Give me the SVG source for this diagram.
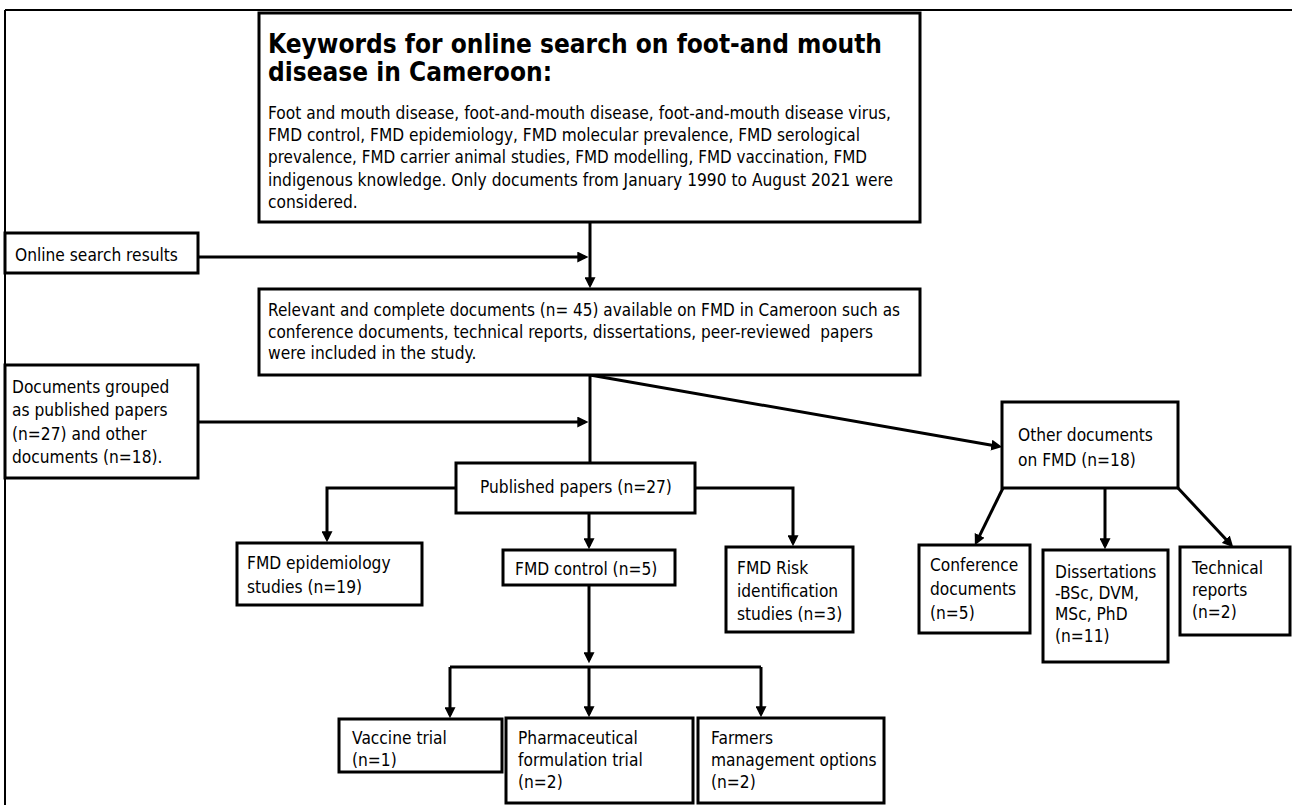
<svg xmlns="http://www.w3.org/2000/svg" width="1292" height="805" viewBox="0 0 1292 805">
<style>
.box{fill:#fff;stroke:#000;stroke-width:3}
.t{font-family:"DejaVu Sans",Verdana,sans-serif;font-size:17px;fill:#000}
.h{font-family:"DejaVu Sans",Verdana,sans-serif;font-size:27px;font-weight:bold;fill:#000}
.c{fill:none;stroke:#000;stroke-width:3}
.a{marker-end:url(#ah)}
.pre{white-space:pre}
</style>
<defs>
<marker id="ah" viewBox="0 0 10 10" refX="7" refY="5" markerWidth="11" markerHeight="11" markerUnits="userSpaceOnUse" orient="auto">
<path d="M0,0 L10,5 L0,10 z" fill="#000"/>
</marker>
</defs>
<rect width="1292" height="805" fill="#fff"/>
<g id="frame">
<path d="M5,10 H1292 M5,10 V805" fill="none" stroke="#000" stroke-width="2"/>
</g>
<g id="connectors">
<path class="c a" d="M198,257 H585"/>
<path class="c a" d="M590,222 V285"/>
<path class="c" d="M590,375 V463"/>
<path class="c a" d="M198,422 H585"/>
<path class="c a" d="M590,375 L999,446.5"/>
<path class="c a" d="M456,488 H327 V539"/>
<path class="c a" d="M695,488 H793 V543"/>
<path class="c a" d="M589,513 V546"/>
<path class="c a" d="M589,585 V660"/>
<path class="c" d="M450,667 H761"/>
<path class="c a" d="M450,667 V715"/>
<path class="c a" d="M589,667 V714"/>
<path class="c a" d="M761,667 V714"/>
<path class="c a" d="M1003,488 L976.3,542.3"/>
<path class="c a" d="M1105,488 V546"/>
<path class="c a" d="M1178,488 L1231,544.8"/>
</g>
<g id="keywords">
<rect class="box" x="259" y="13" width="661" height="209"/>
<text class="h" x="268" y="53" textLength="614" lengthAdjust="spacingAndGlyphs">Keywords for online search on foot-and mouth</text>
<text class="h" x="268" y="81" textLength="284" lengthAdjust="spacingAndGlyphs">disease in Cameroon:</text>
<text class="t" transform="translate(268,119) scale(.91,1)" textLength="684.6" lengthAdjust="spacingAndGlyphs">Foot and mouth disease, foot-and-mouth disease, foot-and-mouth disease virus,</text>
<text class="t" transform="translate(268,141) scale(.91,1)" textLength="650.5" lengthAdjust="spacingAndGlyphs">FMD control, FMD epidemiology, FMD molecular prevalence, FMD serological</text>
<text class="t" transform="translate(268,163) scale(.91,1)" textLength="658.2" lengthAdjust="spacingAndGlyphs">prevalence, FMD carrier animal studies, FMD modelling, FMD vaccination, FMD</text>
<text class="t" transform="translate(268,186) scale(.91,1)" textLength="686.8" lengthAdjust="spacingAndGlyphs">indigenous knowledge. Only documents from January 1990 to August 2021 were</text>
<text class="t" transform="translate(268,208) scale(.91,1)">considered.</text>
</g>
<g id="online">
<rect class="box" x="5" y="233" width="193" height="40"/>
<text class="t" transform="translate(15,261) scale(.91,1)">Online search results</text>
</g>
<g id="relevant">
<rect class="box" x="259" y="289" width="661" height="86"/>
<text class="t" transform="translate(268,316) scale(.91,1)" textLength="694.5" lengthAdjust="spacingAndGlyphs">Relevant and complete documents (n= 45) available on FMD in Cameroon such as</text>
<text class="t pre" transform="translate(268,338) scale(.91,1)" textLength="664.8" lengthAdjust="spacingAndGlyphs">conference documents, technical reports, dissertations, peer-reviewed  papers</text>
<text class="t" transform="translate(268,359) scale(.91,1)">were included in the study.</text>
</g>
<g id="grouped">
<rect class="box" x="5" y="365" width="193" height="113"/>
<text class="t" transform="translate(12,393) scale(.91,1)">Documents grouped</text>
<text class="t" transform="translate(12,416) scale(.91,1)">as published papers</text>
<text class="t" transform="translate(12,440) scale(.91,1)">(n=27) and other</text>
<text class="t" transform="translate(12,463) scale(.91,1)">documents (n=18).</text>
</g>
<g id="published">
<rect class="box" x="456" y="463" width="239" height="50"/>
<text class="t" transform="translate(480,493) scale(.91,1)">Published papers (n=27)</text>
</g>
<g id="epidemiology">
<rect class="box" x="237" y="543" width="185" height="62"/>
<text class="t" transform="translate(247,569) scale(.91,1)">FMD epidemiology</text>
<text class="t" transform="translate(247,593) scale(.91,1)">studies (n=19)</text>
</g>
<g id="control">
<rect class="box" x="503" y="550" width="172" height="35"/>
<text class="t" transform="translate(515,575) scale(.91,1)">FMD control (n=5)</text>
</g>
<g id="risk">
<rect class="box" x="726" y="547" width="127" height="85"/>
<text class="t" transform="translate(737,574) scale(.91,1)">FMD Risk</text>
<text class="t" transform="translate(737,597) scale(.91,1)">identification</text>
<text class="t" transform="translate(737,620) scale(.91,1)">studies (n=3)</text>
</g>
<g id="other">
<rect class="box" x="1002" y="402" width="176" height="86"/>
<text class="t" transform="translate(1018,441) scale(.91,1)">Other documents</text>
<text class="t" transform="translate(1018,466) scale(.91,1)">on FMD (n=18)</text>
</g>
<g id="conference">
<rect class="box" x="919" y="545" width="111" height="88"/>
<text class="t" transform="translate(930,571) scale(.91,1)">Conference</text>
<text class="t" transform="translate(930,595) scale(.91,1)">documents</text>
<text class="t" transform="translate(930,619) scale(.91,1)">(n=5)</text>
</g>
<g id="dissertations">
<rect class="box" x="1043" y="550" width="125" height="112"/>
<text class="t" transform="translate(1055,578) scale(.91,1)">Dissertations</text>
<text class="t" transform="translate(1055,599) scale(.91,1)">-BSc, DVM,</text>
<text class="t" transform="translate(1055,620) scale(.91,1)">MSc, PhD</text>
<text class="t" transform="translate(1055,642) scale(.91,1)">(n=11)</text>
</g>
<g id="technical">
<rect class="box" x="1180" y="547" width="110" height="88"/>
<text class="t" transform="translate(1192,574) scale(.91,1)">Technical</text>
<text class="t" transform="translate(1192,596) scale(.91,1)">reports</text>
<text class="t" transform="translate(1192,618) scale(.91,1)">(n=2)</text>
</g>
<g id="vaccine">
<rect class="box" x="339" y="719" width="163" height="53"/>
<text class="t" transform="translate(352,744) scale(.91,1)">Vaccine trial</text>
<text class="t" transform="translate(352,766) scale(.91,1)">(n=1)</text>
</g>
<g id="pharmaceutical">
<rect class="box" x="506" y="718" width="187" height="85"/>
<text class="t" transform="translate(518,744) scale(.91,1)">Pharmaceutical</text>
<text class="t" transform="translate(518,766) scale(.91,1)">formulation trial</text>
<text class="t" transform="translate(518,788) scale(.91,1)">(n=2)</text>
</g>
<g id="farmers">
<rect class="box" x="698" y="718" width="186" height="85"/>
<text class="t" transform="translate(711,744) scale(.91,1)">Farmers</text>
<text class="t" transform="translate(711,766) scale(.91,1)">management options</text>
<text class="t" transform="translate(711,788) scale(.91,1)">(n=2)</text>
</g>
</svg>
